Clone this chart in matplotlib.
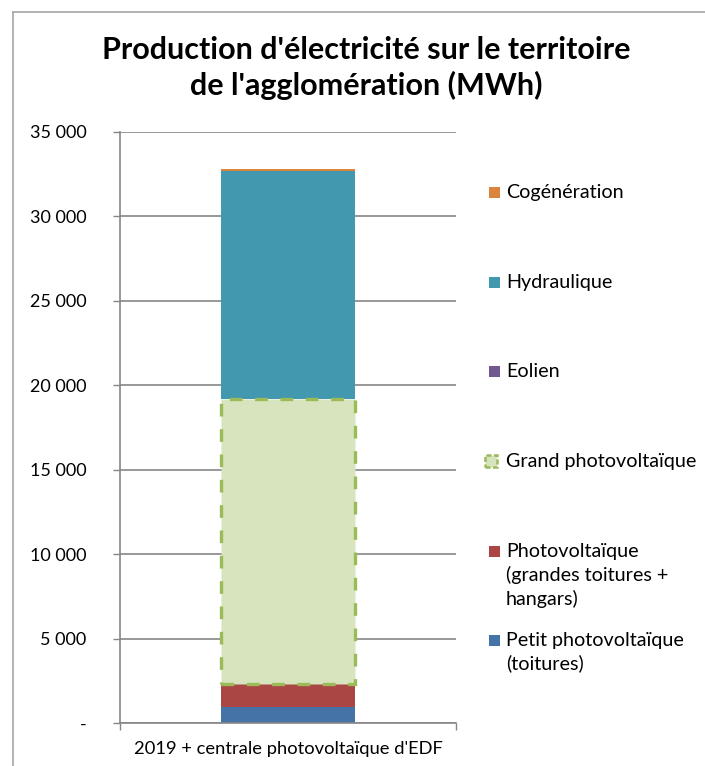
import matplotlib.pyplot as plt
from matplotlib.lines import Line2D
from matplotlib.patches import Rectangle
from matplotlib.ticker import FuncFormatter

plt.rcParams['font.family'] = ['Lato', 'DejaVu Sans']

# Données (MWh)
categorie = "2019 + centrale photovoltaïque d'EDF"
series = ["Petit photovoltaïque\n(toitures)",
          "Photovoltaïque\n(grandes toitures +\nhangars)",
          "Grand photovoltaïque",
          "Eolien",
          "Hydraulique",
          "Cogénération"]
valeurs = [950, 1360, 16900, 0, 13480, 110]
couleurs = ["#4572A7", "#AA4643", "#D7E4BD", "#71588F", "#4198AF", "#DB843D"]
y_ticks = [0, 5000, 10000, 15000, 20000, 25000, 30000, 35000]

fig = plt.figure(figsize=(7.05, 7.66), dpi=100)
ax = fig.add_axes([0.170, 0.0561, 0.477, 0.7716])

bas = 0
for nom, val, coul in zip(series, valeurs, couleurs):
    if nom == "Grand photovoltaïque":
        ax.bar(0, val, width=0.4, bottom=bas, color=coul, edgecolor="#9BBB59",
               linewidth=2.4, linestyle=(0, (3.8, 3.8)), zorder=3)
    else:
        ax.bar(0, val, width=0.4, bottom=bas, color=coul, linewidth=0, zorder=2)
    bas += val

ax.set_xlim(-0.5, 0.5)
ax.set_ylim(0, 35000)
ax.set_yticks(y_ticks)
ax.yaxis.set_major_formatter(FuncFormatter(
    lambda v, p: "-" if v == 0 else f"{int(v):,}".replace(",", " ")))
ax.tick_params(axis="y", length=5, width=1, color="#868686", labelsize=13, pad=19)
ax.set_xticks([-0.5, 0.5])
ax.set_xticklabels(["", ""])
ax.tick_params(axis="x", length=5, width=1, color="#868686")
ax.set_xticks([0], [categorie], minor=True)
ax.tick_params(axis="x", which="minor", length=0, labelsize=13.2, pad=13)

ax.grid(axis="y", color="#868686", linewidth=1.2, zorder=0)
for s in ["top", "right"]:
    ax.spines[s].set_visible(False)
for s in ["left", "bottom"]:
    ax.spines[s].set_color("#868686")
    ax.spines[s].set_linewidth(1.2)

fig.text(0.52, 1 - 68 / 766, "Production d'électricité sur le territoire\nde l'agglomération (MWh)",
         ha="center", va="center", fontsize=22, fontweight="bold", linespacing=1.3)

# Légende
legende_y = [192, 282, 371, 461, 551, 640]
ordre = list(range(len(series)))[::-1]
for yp, i in zip(legende_y, ordre):
    yf = 1 - yp / 766
    if series[i] == "Grand photovoltaïque":
        fig.patches.append(Rectangle((485 / 705, yf - 6 / 766), 12 / 705, 12 / 766,
                                     transform=fig.transFigure, facecolor=couleurs[i],
                                     edgecolor="#9BBB59", linewidth=1.8,
                                     linestyle=(0, (2, 1))))
    else:
        fig.patches.append(Rectangle((489 / 705, yf - 6 / 766), 11 / 705, 11 / 766,
                                     transform=fig.transFigure, facecolor=couleurs[i],
                                     linewidth=0))
    fig.text(506 / 705, yf + 8 / 766, series[i], ha="left", va="top",
             fontsize=14.2, linespacing=1.38)

# Cadre
fig.add_artist(Line2D([13 / 705, 13 / 705], [0, 1 - 12 / 766], color="#A6A6A6",
                      linewidth=1.2, transform=fig.transFigure))
fig.add_artist(Line2D([13 / 705, 1], [1 - 12 / 766, 1 - 12 / 766], color="#A6A6A6",
                      linewidth=1.2, transform=fig.transFigure))

fig.savefig("out.png", dpi=100)
